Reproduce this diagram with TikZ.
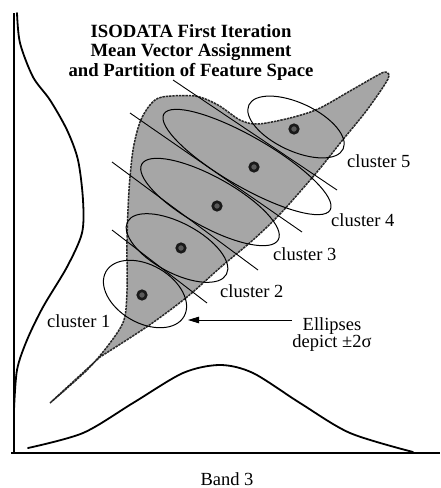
\documentclass[tikz,border=0pt]{standalone}
\usepackage{fontspec}
\setmainfont{Liberation Serif}
\usepackage{xcolor}
\usetikzlibrary{arrows.meta}

\definecolor{featgray}{gray}{0.65}

\begin{document}
\begin{tikzpicture}[
  x=1pt, y=1pt,
  axis/.style={line width=1.8pt},
  hist/.style={line width=1.8pt, line cap=round},
  region/.style={
    fill=featgray, draw=black!85, line width=1.5pt,
    dash pattern=on 2.4pt off 0.9pt, line join=round
  },
  ell/.style={draw, line width=1pt},
  cut/.style={draw, line width=0.9pt},
  meanvec/.style={
    circle, draw=black!90, fill=black!65, line width=2.6pt,
    minimum size=8.5pt, inner sep=0pt
  },
  lbl/.style={font=\fontsize{18.5}{17.5}\selectfont, inner sep=0pt},
  arr/.style={-{Triangle[length=11pt, width=6.5pt]}, line width=0.9pt},
]
\useasboundingbox (0,0) rectangle (440,-488);

%% ── Axes and histograms ──────────────────────────────────────────────────────
\draw[axis] (14,-13) -- (14,-453);
\draw[axis] (11,-453) -- (440,-453);
\draw[hist] plot[smooth] coordinates {(17,-13) (20,-43) (33,-77) (50,-100)
  (67,-130) (78,-160) (83,-200) (82,-233) (67,-267) (43,-307) (27,-340)
  (17,-370) (14,-410)};
\draw[hist] plot[smooth] coordinates {(28,-448) (83,-433) (133,-403)
  (183,-373) (220,-365) (253,-373) (300,-403) (350,-433) (413,-452)};

%% ── Feature space ────────────────────────────────────────────────────────────
\path[region] plot[smooth] coordinates {(50,-403) (87,-370) (110,-343)
  (124,-320) (127,-290) (127,-240) (129,-190) (133,-150) (140,-122)
  (150,-105) (162,-97) (195,-96) (218,-105) (240,-120) (258,-124)
  (290,-118) (318,-109) (350,-91) (378,-75) (386,-72) (388,-79)
  (367,-110) (341,-142) (317,-172) (281,-213) (253,-240) (222,-266)
  (187,-297) (148,-326) (100,-357)} -- cycle;

%% ── Ellipses (+-2 sigma) ─────────────────────────────────────────────────────
\draw[ell, rotate around={-30:(145,-294)}] (145,-294) ellipse [x radius=45, y radius=29];
\draw[ell, rotate around={-28:(177,-248)}] (177,-248) ellipse [x radius=56, y radius=25];
\draw[ell, rotate around={-29:(210,-202)}] (210,-202) ellipse [x radius=78, y radius=25];
\draw[ell, rotate around={-30:(247,-162)}] (247,-162) ellipse [x radius=96, y radius=25];
\draw[ell, rotate around={-25:(296,-127)}] (296,-127) ellipse [x radius=52, y radius=24];

%% ── Partition lines ──────────────────────────────────────────────────────────
\draw[cut] (173,-80)  -- (337,-190);
\draw[cut] (130,-113) -- (302,-232);
\draw[cut] (112,-162) -- (258,-270);
\draw[cut] (112,-230) -- (207,-303);

%% ── Mean vectors ─────────────────────────────────────────────────────────────
\node[meanvec] (m1) at (142,-295) {};
\node[meanvec] (m2) at (181,-248) {};
\node[meanvec] (m3) at (217,-206) {};
\node[meanvec] (m4) at (254,-167) {};
\node[meanvec] (m5) at (294,-129) {};

%% ── Labels ───────────────────────────────────────────────────────────────────
\node[lbl, font=\fontsize{18.7}{19.5}\selectfont\bfseries, align=center,
  anchor=north] (title) at (191,-24)
  {ISODATA First Iteration\\Mean Vector Assignment\\and Partition of Feature Space};
\node[lbl, anchor=base west] (c5) at (347,-167) {cluster 5};
\node[lbl, anchor=base west] (c4) at (331,-226) {cluster 4};
\node[lbl, anchor=base west] (c3) at (273,-260) {cluster 3};
\node[lbl, anchor=base west] (c2) at (220,-297) {cluster 2};
\node[lbl, anchor=base west] (c1) at (47,-327)  {cluster 1};
\node[lbl, align=center, anchor=north] (ellipses) at (332,-317)
  {Ellipses\\depict ±2σ};
\node[lbl, anchor=base] (band) at (227,-485) {Band 3};

\coordinate (tip) at (188,-320);
\draw[arr] (ellipses.west |- tip) -- (tip);

\end{tikzpicture}
\end{document}
